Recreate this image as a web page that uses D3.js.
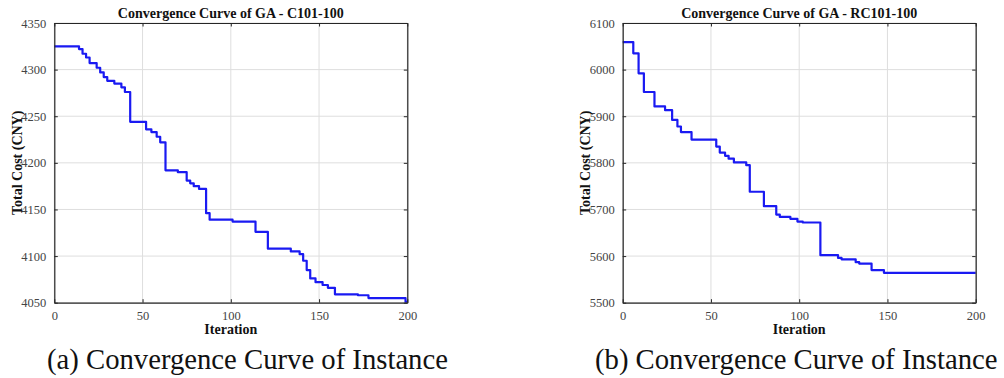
<!DOCTYPE html>
<html>
<head>
<meta charset="utf-8">
<script src="https://cdn.jsdelivr.net/npm/d3@7"></script>
<style>
  body { margin: 0; background: #fff; }
  svg { display: block; }
</style>
</head>
<body>
<div id="plot"></div>
<script>
// Step points (iteration where the best cost changes, new cost)
const iterC = [0, 14, 16, 18, 20, 24, 26, 28, 30, 34, 38, 40, 43, 52, 55, 58, 60, 63, 70, 75, 77, 79, 82, 86, 88, 101, 114, 121, 134, 139, 141, 143, 145, 148, 152, 155, 159, 172, 178, 199, 200];
const costC = [4325, 4322, 4317, 4313, 4307, 4302, 4297, 4292, 4288, 4285, 4281, 4276, 4244, 4236, 4233, 4228, 4222, 4192, 4190, 4181, 4178, 4175, 4172, 4146, 4139, 4137, 4126, 4108, 4105, 4102, 4095, 4085, 4076, 4072, 4069, 4066, 4059, 4058, 4055, 4051, 4051];

const iterRC = [0, 6, 9, 12, 18, 24, 28, 31, 33, 39, 53, 55, 58, 60, 63, 70, 72, 80, 87, 89, 95, 99, 102, 112, 122, 124, 132, 134, 141, 148, 200];
const costRC = [6059, 6035, 5992, 5952, 5921, 5913, 5892, 5878, 5866, 5850, 5835, 5822, 5815, 5809, 5801, 5795, 5738, 5707, 5689, 5684, 5680, 5674, 5672, 5602, 5596, 5593, 5587, 5584, 5570, 5564, 5564];

const xTicks = [0, 50, 100, 150, 200];
const yTicksC = [4050, 4100, 4150, 4200, 4250, 4300, 4350];
const yTicksRC = [5500, 5600, 5700, 5800, 5900, 6000, 6100];

const titles = ["Convergence Curve of GA - C101-100", "Convergence Curve of GA - RC101-100"];
const captions = ["(a) Convergence Curve of Instance", "(b) Convergence Curve of Instance"];

const serif = "'Liberation Serif'";
const width = 1004, height = 378;
const svg = d3.select("#plot").append("svg")
    .attr("width", width)
    .attr("height", height);

function drawPanel(left, iters, costs, yTicks, title, caption, capX, ylabX) {
    const x0 = left, x1 = left + 353, y0 = 302.7, y1 = 23;
    const x = d3.scaleLinear().domain([0, 200]).range([x0, x1]);
    const y = d3.scaleLinear().domain([yTicks[0], yTicks[yTicks.length - 1]]).range([y0, y1]);
    const g = svg.append("g");

    // grid
    g.selectAll(".gx").data(xTicks).enter().append("line")
        .attr("x1", d => x(d)).attr("x2", d => x(d))
        .attr("y1", y0).attr("y2", y1)
        .attr("stroke", "#dedede").attr("stroke-width", 1);
    g.selectAll(".gy").data(yTicks).enter().append("line")
        .attr("x1", x0).attr("x2", x1)
        .attr("y1", d => y(d)).attr("y2", d => y(d))
        .attr("stroke", "#dedede").attr("stroke-width", 1);

    // curve
    const pts = iters.map((it, i) => [it, costs[i]]);
    g.append("path")
        .datum(pts)
        .attr("d", d3.line().x(d => x(d[0])).y(d => y(d[1])).curve(d3.curveStepAfter))
        .attr("fill", "none")
        .attr("stroke", "#1a1af2")
        .attr("stroke-width", 2.2)
        .attr("stroke-linejoin", "round");

    // axes (ticks inward on all four sides)
    const tk = 3.5;
    const fmt = d3.format("d");
    const bottom = g.append("g").attr("transform", `translate(0,${y0})`)
        .call(d3.axisBottom(x).tickValues(xTicks).tickFormat(fmt).tickSizeInner(-tk).tickSizeOuter(0).tickPadding(8));
    const top = g.append("g").attr("transform", `translate(0,${y1})`)
        .call(d3.axisTop(x).tickValues(xTicks).tickSizeInner(-tk).tickSizeOuter(0).tickFormat(""));
    const leftAx = g.append("g").attr("transform", `translate(${x0},0)`)
        .call(d3.axisLeft(y).tickValues(yTicks).tickFormat(fmt).tickSizeInner(-tk).tickSizeOuter(0).tickPadding(8));
    const rightAx = g.append("g").attr("transform", `translate(${x1},0)`)
        .call(d3.axisRight(y).tickValues(yTicks).tickSizeInner(-tk).tickSizeOuter(0).tickFormat(""));
    [bottom, top, leftAx, rightAx].forEach(a => {
        a.attr("font-family", null).attr("font-size", null);
        a.select(".domain").attr("stroke", "#262626").attr("stroke-width", 1.2);
        a.selectAll(".tick line").attr("stroke", "#262626");
        a.selectAll(".tick text")
            .attr("fill", "#444")
            .style("font-family", serif)
            .style("font-size", "12.5px");
    });

    // title
    g.append("text")
        .attr("x", (x0 + x1) / 2).attr("y", 18)
        .attr("text-anchor", "middle")
        .style("font-family", serif)
        .style("font-size", "14px").style("font-weight", "bold")
        .attr("fill", "#111")
        .text(title);

    // x label
    g.append("text")
        .attr("x", (x0 + x1) / 2).attr("y", 334)
        .attr("text-anchor", "middle")
        .style("font-family", serif)
        .style("font-size", "14px").style("font-weight", "bold")
        .attr("fill", "#111")
        .text("Iteration");

    // y label
    g.append("text")
        .attr("transform", `translate(${ylabX},${(y0 + y1) / 2}) rotate(-90)`)
        .attr("text-anchor", "middle")
        .style("font-family", serif)
        .style("font-size", "14px").style("font-weight", "bold")
        .attr("fill", "#111")
        .text("Total Cost (CNY)");

    // caption
    g.append("text")
        .attr("x", capX).attr("y", 369)
        .style("font-family", serif)
        .style("font-size", "28.7px")
        .attr("fill", "#111")
        .text(caption);
}

drawPanel(54.3, iterC, costC, yTicksC, titles[0], captions[0], 47, 21.5);
drawPanel(622.7, iterRC, costRC, yTicksRC, titles[1], captions[1], 595, 590);
</script>
</body>
</html>
